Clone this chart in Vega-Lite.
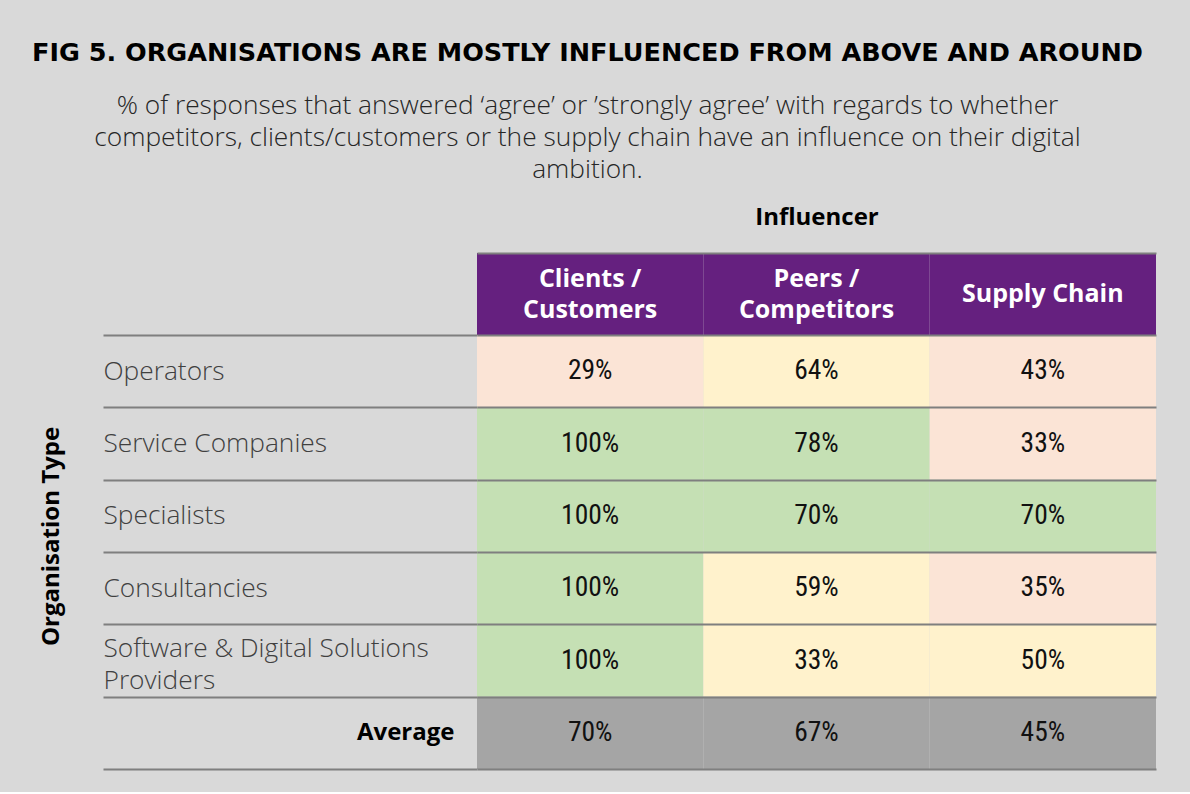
{
  "$schema": "https://vega.github.io/schema/vega-lite/v6.json",
  "background": "#d9d9d9",
  "padding": {"left": 32, "top": 41, "right": 35, "bottom": 22},
  "title": {
    "text": "FIG 5. ORGANISATIONS ARE MOSTLY INFLUENCED FROM ABOVE AND AROUND",
    "subtitle": [
      "% of responses that answered ‘agree’ or ’strongly agree’ with regards to whether",
      "competitors, clients/customers or the supply chain have an influence on their digital",
      "ambition."
    ],
    "anchor": "middle",
    "dx": -10,
    "font": "DejaVu Sans",
    "fontSize": 25.5,
    "fontWeight": "bold",
    "color": "#000000",
    "subtitleFont": "Open Sans",
    "subtitleFontSize": 26.3,
    "subtitleFontWeight": 300,
    "subtitleColor": "#262626",
    "subtitleLineHeight": 32,
    "subtitlePadding": 26,
    "offset": 22
  },
  "datasets": {
    "heads": [
      {"influencer": "Clients / Customers", "upper": "Clients /", "lower": "Customers", "single": ""},
      {"influencer": "Peers / Competitors", "upper": "Peers /", "lower": "Competitors", "single": ""},
      {"influencer": "Supply Chain", "upper": "", "lower": "", "single": "Supply Chain"}
    ],
    "cells": [
      {"organisation": "Operators", "influencer": "Clients / Customers", "share": 0.29, "rating": "Low"},
      {"organisation": "Operators", "influencer": "Peers / Competitors", "share": 0.64, "rating": "Medium"},
      {"organisation": "Operators", "influencer": "Supply Chain", "share": 0.43, "rating": "Low"},
      {"organisation": "Service Companies", "influencer": "Clients / Customers", "share": 1.0, "rating": "High"},
      {"organisation": "Service Companies", "influencer": "Peers / Competitors", "share": 0.78, "rating": "High"},
      {"organisation": "Service Companies", "influencer": "Supply Chain", "share": 0.33, "rating": "Low"},
      {"organisation": "Specialists", "influencer": "Clients / Customers", "share": 1.0, "rating": "High"},
      {"organisation": "Specialists", "influencer": "Peers / Competitors", "share": 0.70, "rating": "High"},
      {"organisation": "Specialists", "influencer": "Supply Chain", "share": 0.70, "rating": "High"},
      {"organisation": "Consultancies", "influencer": "Clients / Customers", "share": 1.0, "rating": "High"},
      {"organisation": "Consultancies", "influencer": "Peers / Competitors", "share": 0.59, "rating": "Medium"},
      {"organisation": "Consultancies", "influencer": "Supply Chain", "share": 0.35, "rating": "Low"},
      {"organisation": "Software & Digital Solutions Providers", "influencer": "Clients / Customers", "share": 1.0, "rating": "High"},
      {"organisation": "Software & Digital Solutions Providers", "influencer": "Peers / Competitors", "share": 0.33, "rating": "Medium"},
      {"organisation": "Software & Digital Solutions Providers", "influencer": "Supply Chain", "share": 0.50, "rating": "Medium"},
      {"organisation": "Average", "influencer": "Clients / Customers", "share": 0.70, "rating": "Average"},
      {"organisation": "Average", "influencer": "Peers / Competitors", "share": 0.67, "rating": "Average"},
      {"organisation": "Average", "influencer": "Supply Chain", "share": 0.45, "rating": "Average"}
    ]
  },
  "spacing": 0,
  "bounds": "flush",
  "vconcat": [
    {
      "width": 679,
      "height": 82,
      "data": {"name": "heads"},
      "encoding": {
        "x": {
          "field": "influencer",
          "type": "nominal",
          "sort": ["Clients / Customers", "Peers / Competitors", "Supply Chain"],
          "scale": {"paddingInner": 0, "paddingOuter": 0},
          "axis": {
            "orient": "top",
            "title": "Influencer",
            "labels": false,
            "ticks": false,
            "grid": false,
            "domain": true,
            "domainColor": "#7f7f7f",
            "domainWidth": 2,
            "titleFont": "Open Sans",
            "titleFontSize": 24,
            "titleFontWeight": "bold",
            "titleColor": "#000000",
            "titlePadding": 24
          }
        }
      },
      "layer": [
        {"mark": {"type": "rect", "color": "#65207f"}},
        {
          "mark": {"type": "text", "font": "Open Sans", "fontSize": 25, "fontWeight": "bold", "color": "#ffffff", "dy": -15.5},
          "encoding": {"text": {"field": "upper", "type": "nominal"}}
        },
        {
          "mark": {"type": "text", "font": "Open Sans", "fontSize": 25, "fontWeight": "bold", "color": "#ffffff", "dy": 15.5},
          "encoding": {"text": {"field": "lower", "type": "nominal"}}
        },
        {
          "mark": {"type": "text", "font": "Open Sans", "fontSize": 25, "fontWeight": "bold", "color": "#ffffff"},
          "encoding": {"text": {"field": "single", "type": "nominal"}}
        }
      ]
    },
    {
      "width": 679,
      "height": 434,
      "data": {"name": "cells"},
      "encoding": {
        "x": {
          "field": "influencer",
          "type": "nominal",
          "sort": ["Clients / Customers", "Peers / Competitors", "Supply Chain"],
          "scale": {"paddingInner": 0, "paddingOuter": 0},
          "axis": null
        },
        "y": {
          "field": "organisation",
          "type": "nominal",
          "sort": ["Operators", "Service Companies", "Specialists", "Consultancies", "Software & Digital Solutions Providers", "Average"],
          "scale": {"paddingInner": 0, "paddingOuter": 0},
          "axis": {
            "title": "Organisation Type",
            "titleFont": "Open Sans",
            "titleFontSize": 24,
            "titleFontWeight": "bold",
            "titleColor": "#000000",
            "titleX": -414,
            "titleY": 201,
            "domain": false,
            "ticks": true,
            "tickBand": "extent",
            "tickSize": 374,
            "tickColor": "#7f7f7f",
            "tickWidth": 2,
            "grid": true,
            "gridColor": "#7f7f7f",
            "gridWidth": 2,
            "gridOpacity": 1,
            "zindex": 1,
            "labelFont": "Open Sans",
            "labelFontSize": {"condition": {"test": "datum.value === 'Average'", "value": 24}, "value": 26.3},
            "labelFontWeight": {"condition": {"test": "datum.value === 'Average'", "value": "bold"}, "value": 300},
            "labelAlign": {"condition": {"test": "datum.value === 'Average'", "value": "right"}, "value": "left"},
            "labelPadding": {"condition": {"test": "datum.value === 'Average'", "value": -351}, "value": 0},
            "labelOffset": {"condition": {"test": "datum.value === 'Software & Digital Solutions Providers'", "value": -12}, "value": 0},
            "labelColor": {"condition": {"test": "datum.value === 'Average'", "value": "#000000"}, "value": "#404040"},
            "labelLimit": 0,
            "labelLineHeight": 32,
            "labelExpr": "datum.value === 'Software & Digital Solutions Providers' ? ['Software & Digital Solutions', 'Providers'] : datum.label"
          }
        }
      },
      "layer": [
        {
          "mark": {"type": "rect"},
          "encoding": {
            "color": {
              "field": "rating",
              "type": "nominal",
              "scale": {"domain": ["Low", "Medium", "High", "Average"], "range": ["#fbe4d6", "#fff2cc", "#c5e0b4", "#a5a5a5"]},
              "legend": null
            }
          }
        },
        {
          "mark": {"type": "text", "font": "Roboto Condensed, DejaVu Sans Condensed, Liberation Sans Narrow, sans-serif", "fontSize": 27.5, "color": "#111111"},
          "encoding": {"text": {"field": "share", "type": "quantitative", "format": ".0%"}}
        }
      ]
    }
  ],
  "config": {
    "view": {"stroke": null}
  }
}
